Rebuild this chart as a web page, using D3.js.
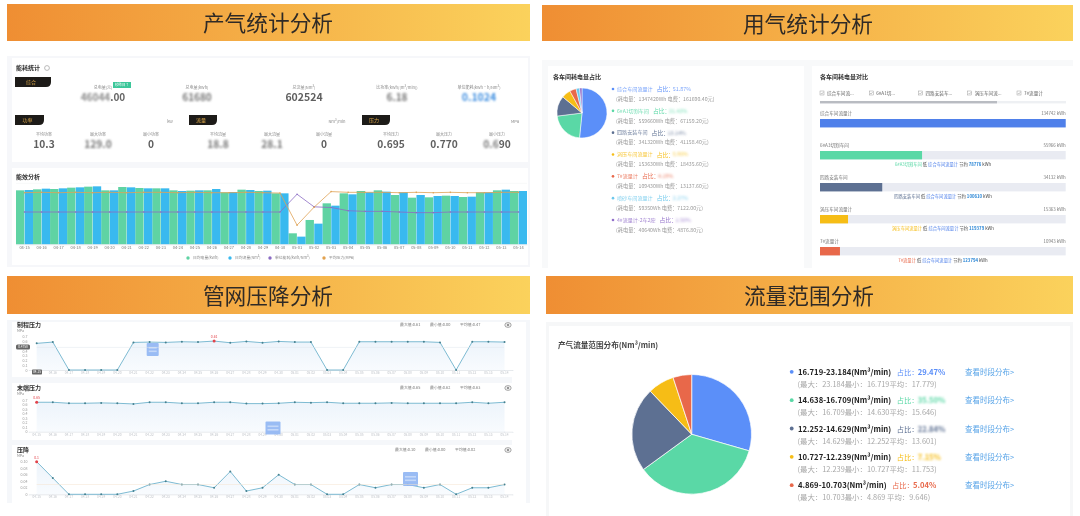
<!DOCTYPE html>
<html><head><meta charset="utf-8">
<script src="https://cdn.jsdelivr.net/npm/d3@7/dist/d3.min.js"></script>
<style>
html,body{margin:0;padding:0;background:#fff;width:1080px;height:516px;overflow:hidden}
svg{display:block;filter:blur(.35px)}
text{font-family:"Noto Sans CJK SC","Noto Sans",sans-serif}
</style></head><body><svg id="c" width="1080" height="516"></svg>
<script>
// ---------- data ----------
const sectionTitles = ["产气统计分析","用气统计分析","管网压降分析","流量范围分析"];
const dates = ["04-15","04-16","04-17","04-18","04-19","04-20","04-21","04-22","04-23","04-24","04-25","04-26","04-27","04-28","04-29","04-30","05-01","05-02","05-03","05-04","05-05","05-06","05-07","05-08","05-09","05-10","05-11","05-12","05-13","05-14"];
const dailyPower = [21060,21450,21580,22100,22490,21060,22360,21970,21840,21060,20930,21060,20280,21320,20800,19890,4290,9490,15990,19890,20800,21060,19240,18200,18330,18980,18460,20280,21060,20800];
const dailyFlow = [21190,21710,21840,22230,22620,21060,22230,21840,21840,20800,21060,21580,20410,21190,20930,19890,2990,8060,15080,19500,20280,20540,20280,19240,18850,18850,18590,20280,21320,20800];
const unitUse = [.100,.100,.100,.100,.100,.100,.100,.100,.100,.100,.100,.100,.100,.100,.100,.100,.155,.116,.114,.104,.102,.102,.100,.098,.098,.100,.100,.100,.100,.100];
const avgPressure = [.695,.70,.695,.70,.695,.70,.695,.70,.70,.695,.70,.695,.695,.70,.695,.69,.258,.50,.71,.70,.70,.70,.695,.70,.695,.70,.695,.695,.70,.70];
const energyLegend = ["日均电量(kWh)","日均流量(Nm³)","单位能耗(kWh/Nm³)","平均压力(MPa)"];

const workshops = ["综合车间流量计","6#A1切割车间","四路安装车间","涡压车间流量计","7#流量计","喷砂车间流量计","4#流量计-2车2腔"];
const workshopWh = [1347420,559660,341320,153630,109430,59350,40640];
const workshopFee = ["161690.40","67159.20","41158.40","18435.60","13137.60","7122.00","4876.80"];
const workshopPct = ["51.87%","21.43%","13.14%","5.96%","4.19%","2.27%","1.56%"];
const compareNames = ["综合车间流量计","6#A3切割车间","四路安装车间","涡压车间流量计","7#流量计"];
const compareChecks = ["综合车间流...","6#A1切...","四路安装车...","涡压车间流...","7#流量计"];
const compareKwh = ["134742 kWh","55966 kWh","34132 kWh","15363 kWh","10943 kWh"];
const compareSave = ["","78776","100610","119379","123794"];

const pressureFront = [.56,.587,0,0,0,0,.58,.587,.58,.594,.587,.608,.573,.601,.573,.601,.587,.587,0,0,.594,.594,.594,.594,.594,.58,0,.594,.594,.587];
const pressureEnd = [.65,.65,.628,.628,.636,.628,.613,.65,.65,.628,.628,.65,.65,.62,.62,.628,.65,.642,.65,.628,.628,.628,.636,.628,.628,.628,.628,.65,.628,.65];
const pressureDrop = [.1,.05,0,0,0,0,.01,.03,.04,.03,.03,.02,.07,.01,.02,.06,.03,.03,0,0,.03,.02,.03,.03,.02,.03,0,.02,.02,.03];
const lineTitles = ["制程压力","末端压力","压降"];
const lineStats = [["最大值:0.61","最小值:0.00","平均值:0.47"],["最大值:0.65","最小值:0.62","平均值:0.63"],["最大值:0.10","最小值:0.00","平均值:0.02"]];
const frontTicks = [0,.1,.2,.3,.4,.6,.7];
const endTicks = [0,.1,.2,.3,.4,.5,.6,.7];
const dropTicks = [0,.02,.04,.06,.08,.1];

const rangeNames = ["16.719-23.184(Nm³/min)","14.638-16.709(Nm³/min)","12.252-14.629(Nm³/min)","10.727-12.239(Nm³/min)","4.869-10.703(Nm³/min)"];
const rangeShare = [29.47,35.50,22.84,7.15,5.04];
const rangeDetail = ["(最大：23.184最小：16.719平均：17.779)","(最大：16.709最小：14.630平均：15.646)","(最大：14.629最小：12.252平均：13.601)","(最大：12.239最小：10.727平均：11.753)","(最大：10.703最小：4.869  平均：9.646)"];

const pieColors = ["#5b8ff9","#5ad8a6","#5d7092","#f6bd16","#e8684a","#6dc8ec","#9270ca"];

// ---------- helpers ----------
const svg = d3.select("#c");
const defs = svg.append("defs");
const g0 = defs.append("linearGradient").attr("id","hdr");
g0.append("stop").attr("offset","0").attr("stop-color","#ef8e33");
g0.append("stop").attr("offset","1").attr("stop-color","#fbd25c");
const ga = defs.append("linearGradient").attr("id","area").attr("x2",0).attr("y2",1);
ga.append("stop").attr("offset","0").attr("stop-color","#edf4fb");
ga.append("stop").attr("offset","1").attr("stop-color","#f8fbfe");
defs.append("filter").attr("id","sm").attr("x","-20%").attr("y","-40%").attr("width","140%").attr("height","180%")
  .append("feGaussianBlur").attr("stdDeviation",.85);

function rect(x,y,w,h,fill,parent){return (parent||svg).append("rect").attr("x",x).attr("y",y).attr("width",w).attr("height",h).attr("fill",fill);}
function txt(x,y,s,size,fill,opt){opt=opt||{};
  return (opt.p||svg).append("text").attr("x",x).attr("y",y).attr("dy",".35em").text(s).attr("font-size",size).attr("fill",fill)
   .attr("text-anchor",opt.a||"start").attr("font-weight",opt.w||400);}
function smudged(cx,y,blurred,clear,size,fill,fw,blurFill){
  const g=svg.append("g");
  const a=txt(0,0,blurred,size,blurFill||fill,{p:g,w:fw||700}).attr("filter",blurred?"url(#sm)":null);
  const w1=a.node().getComputedTextLength();
  const b=txt(w1,0,clear,size,fill,{p:g,w:fw||700});
  const w2=b.node().getComputedTextLength();
  g.attr("transform",`translate(${cx-(w1+w2)/2},${y})`);
}

// ---------- panels ----------
rect(7,56,523,211,"#f6f7fa"); rect(12,58,516,104,"#fff"); rect(12,168,516,97,"#fff");
rect(542,60,531,208,"#f8f9fa"); rect(548,66,256,202,"#fff"); rect(812,66,261,202,"#fff");
rect(7,320,523,183,"#f5f7fa"); rect(12,322,500,55,"#fff"); rect(12,383,500,57,"#fff"); rect(12,445,500,58,"#fff");
rect(512,322,14,181,"#fff");
rect(546,322,527,194,"#f6f7f8"); rect(549,326,521,190,"#fff");
[[7,4,523,37,268,23],[542,5,531,36,808,24],[7,276,523,38,268,296],[546,276,527,38,809,296]].forEach((b,i)=>{
  rect(b[0],b[1],b[2],b[3],"url(#hdr)");
  txt(b[4],b[5],sectionTitles[i],21.7,"#2f2a26",{a:"middle"});
});

// ---------- KPI block ----------
function tab(x,y,w,label){
  const h=10, r=5;
  svg.append("path").attr("d",`M${x} ${y}H${x+w}V${y+h-r}Q${x+w} ${y+h} ${x+w-r} ${y+h}H${x}Z`).attr("fill","#1d1b18");
  txt(x+w/2-2,y+h/2,label,5,"#d9a548",{a:"middle"});
}
txt(16,68,"能耗统计",6,"#333",{w:700});
svg.append("circle").attr("cx",47).attr("cy",68).attr("r",2.4).attr("fill","none").attr("stroke","#aaa").attr("stroke-width",.8);
tab(15,77,36,"综合"); tab(15,115,29,"功率"); tab(189,115,28,"流量"); tab(362,115,28,"压力");
txt(170,122,"kW",4,"#888",{a:"middle"}); txt(337,122,"Nm³/min",4,"#888",{a:"middle"}); txt(515,122,"MPa",4,"#888",{a:"middle"});
rect(113,82,18,6,"#3cc79a"); txt(122,85,"较昨日↑",3.5,"#fff",{a:"middle"});
const topLabels=["总电量(元)","总电量(kWh)","总流量(Nm³)","比功率(kWh/(m³/min))","单位能耗(kWh·h/Nm³)"];
const topCx=[103,197,304,397,479];
topLabels.forEach((l,i)=>txt(topCx[i],88,l,4,"#888",{a:"middle"}));
smudged(103,97,"46044",".00",10,"#666",700,"#888");
smudged(197,97,"61680","",10,"#666",700,"#777");
smudged(304,97,"","602524",10.5,"#5f5f5f");
smudged(397,97,"6.18","",10,"#666",700,"#777");
smudged(479,97,"0.1024","",10.5,"#3f8fe0",700,"#3f8fe0");
const botLabels=["平均功率","最大功率","最小功率","平均流量","最大流量","最小流量","平均压力","最大压力","最小压力"];
const botCx=[44,98,151,218,272,324,391,444,497];
botLabels.forEach((l,i)=>txt(botCx[i],135,l,4,"#888",{a:"middle"}));
[["","10.3"],["129.0",""],["","0"],["18.8",""],["28.1",""],["","0"],["","0.695"],["","0.770"],["0.6","90"]].forEach((p,i)=>smudged(botCx[i],144,p[0],p[1],10.2,"#5f5f5f",700,"#777"));

// ---------- energy analysis combo chart ----------
txt(16,177,"能效分析",6,"#333",{w:700});
const ex=d3.scaleBand().domain(dates).range([16,527]);
const exIn=d3.scaleBand().domain([0,1]).range([0,ex.bandwidth()]).paddingInner(.04);
const ey=d3.scaleLinear().domain([0,24000]).range([244.3,182.8]);
const eyU=d3.scaleLinear().domain([0,.2]).range([244.3,179.7]);
const eyP=d3.scaleLinear().domain([0,.8]).range([244.3,184.9]);
svg.append("g").attr("stroke","#eef0f3").attr("stroke-width",.5).append("line").attr("x1",16).attr("x2",527).attr("y1",ey(24000)+.5).attr("y2",ey(24000)+.5);
[[dailyPower,"#5fd3a3",0],[dailyFlow,"#39b9ef",1]].forEach(s=>{
  svg.append("g").selectAll("rect").data(s[0]).join("rect")
   .attr("x",(d,i)=>ex(dates[i])+exIn(s[2])).attr("width",exIn.bandwidth())
   .attr("y",d=>ey(d)).attr("height",d=>ey(0)-ey(d)).attr("fill",s[1]);
});
const ecx=(d,i)=>ex(dates[i])+ex.bandwidth()/2;
[[unitUse,eyU,"#8b6cc4"],[avgPressure,eyP,"#dfa255"]].forEach(s=>{
  svg.append("path").datum(s[0]).attr("fill","none").attr("stroke",s[2]).attr("stroke-width",.8)
    .attr("d",d3.line().x(ecx).y(d=>s[1](d)));
  svg.append("g").selectAll("circle").data(s[0]).join("circle").attr("cx",ecx).attr("cy",d=>s[1](d)).attr("r",.8).attr("fill",s[2]);
});
const eAxis=svg.append("g").attr("transform","translate(0,244.3)").call(d3.axisBottom(ex).tickSize(0).tickPadding(2));
eAxis.select(".domain").attr("stroke","#d5d8de").attr("stroke-width",.5);
eAxis.selectAll("text").attr("font-size",4).attr("fill","#777").attr("font-family",'"Noto Sans CJK SC"');
const eLegX=d3.scaleOrdinal().domain(energyLegend).range([188,230,270,324]);
const eLegC=["#5fd3a3","#39b9ef","#8b6cc4","#e2a24f"];
energyLegend.forEach((l,i)=>{
  svg.append("circle").attr("cx",eLegX(l)).attr("cy",258).attr("r",1.7).attr("fill",eLegC[i]);
  txt(eLegX(l)+5,258,l,3.8,"#888");
});

// ---------- workshop pie + legend ----------
txt(553,77,"各车间耗电量占比",6,"#333",{w:700});
const pie=d3.pie().sort(null).value(d=>d);
function drawPie(vals,cx,cy,r,sw){
  const arc=d3.arc().innerRadius(0).outerRadius(r);
  svg.append("g").attr("transform",`translate(${cx},${cy})`).selectAll("path").data(pie(vals)).join("path")
    .attr("d",arc).attr("fill",(d,i)=>pieColors[i]).attr("stroke","#fff").attr("stroke-width",sw);
}
drawPie(workshopWh,582,113,25,.5);
const wy=d3.scalePoint().domain(workshops).range([89,220]);
workshops.forEach((w,i)=>{
  const y=wy(w), c=pieColors[i];
  svg.append("circle").attr("cx",613).attr("cy",y).attr("r",1.3).attr("fill",c);
  const t=txt(617,y,w,5.1,c);
  const wd=t.node().getComputedTextLength();
  t.attr("opacity",.85);
  txt(617+wd+4,y,"占比：",5.8,c);
  const pctX=617+wd+4+16;
  txt(pctX,y,workshopPct[i],5.4,c).attr("filter",i<1?null:"url(#sm)").attr("opacity",.8);
  txt(616,y+10,`(耗电量：${workshopWh[i]}Wh  电费：${workshopFee[i]}元)`,5.2,"#9a9a9a");
});

// ---------- workshop comparison ----------
txt(820,77,"各车间耗电量对比",6,"#333",{w:700});
const chkX=d3.scalePoint().domain(compareChecks).range([820,1017]);
compareChecks.forEach(c=>{
  rect(chkX(c),91,4,4,"#fff").attr("stroke","#888").attr("stroke-width",.4);
  svg.append("path").attr("d",`M${chkX(c)+.8} ${93}l1 1.1l1.6 -2`).attr("fill","none").attr("stroke","#777").attr("stroke-width",.4);
  txt(chkX(c)+7,93,c,4.6,"#666");
});
rect(820,101,246,2.4,"#eef0f3"); rect(820,101,177,2.4,"#b9bcc2");
const rowY=d3.scaleBand().domain(compareNames).range([119,279]).paddingInner(0);
const barX=d3.scaleLinear().domain([0,workshopWh[0]]).range([0,245.7]);
compareNames.forEach((n,i)=>{
  const y=rowY(n);
  txt(820,y-6,n,4.6,"#777");
  txt(1065.7,y-6,compareKwh[i],4.4,"#777",{a:"end"});
  rect(820,y,245.7,8.4,"#e9ebf2");
  rect(820,y,barX(workshopWh[i]),8.4,i==0?"#4f80ea":pieColors[i]);
  if(i>0){
    const g=svg.append("text").attr("y",y+13).attr("dy",".35em").attr("x",943).attr("text-anchor","middle").attr("font-size",4.3);
    g.append("tspan").text(n).attr("fill",pieColors[i]);
    g.append("tspan").text(" 低 ").attr("fill","#444");
    g.append("tspan").text(compareNames[0]).attr("fill","#4f80ea");
    g.append("tspan").text(" 节约 ").attr("fill","#444");
    g.append("tspan").text(compareSave[i]).attr("fill","#2a86d6").attr("font-weight",700);
    g.append("tspan").text(" kWh").attr("fill","#444");
  }
});

// ---------- pressure line charts ----------
const lx=d3.scaleBand().domain(dates).range([28.6,512.6]);
const lcx=(d,i)=>lx(dates[i])+lx.bandwidth()/2;
function lineChart(idx,vals,top,bot,maxV,ticks,fmt,markIdx,markLabel,box,statX,hideFirst){
  const tY=[325,388,450][idx];
  const y=d3.scaleLinear().domain([0,maxV]).range([bot,top]);
  txt(17,tY,lineTitles[idx],6,"#333",{w:700});
  txt(17,tY+6,"MPa",3.5,"#888");
  lineStats[idx].forEach((s,k)=>txt(statX+k*30,tY,s,3.9,"#777"));
  svg.append("ellipse").attr("cx",508).attr("cy",tY).attr("rx",3.2).attr("ry",2.4).attr("fill","#eee").attr("stroke","#777").attr("stroke-width",.6);
  svg.append("circle").attr("cx",508).attr("cy",tY).attr("r",1).attr("fill","#777");
  svg.append("path").datum(vals).attr("fill","url(#area)")
    .attr("d",d3.area().x(lcx).y0(bot).y1(d=>y(d)));
  const a=svg.append("g").attr("transform",`translate(0,${bot})`).call(d3.axisBottom(lx).tickSize(1).tickPadding(.8).tickFormat(d=>hideFirst&&d==dates[0]?"":d));
  a.select(".domain").attr("stroke","#cfd4da").attr("stroke-width",.5);
  a.selectAll("line").attr("stroke","#cfd4da").attr("stroke-width",.4);
  a.selectAll("text").attr("font-size",3.2).attr("fill","#c0c4ca").attr("font-family",'"Noto Sans CJK SC"');
  const b=svg.append("g").attr("transform","translate(29,0)").call(d3.axisLeft(y).tickValues(ticks).tickSize(0).tickPadding(1.5).tickFormat(fmt));
  b.select(".domain").remove();
  b.selectAll("text").attr("font-size",3.6).attr("fill","#999").attr("font-family",'"Noto Sans CJK SC"');
  svg.append("path").datum(vals).attr("fill","none").attr("stroke","#6fb3cd").attr("stroke-width",.9).attr("d",d3.line().x(lcx).y(d=>y(d)));
  svg.append("g").selectAll("circle").data(vals).join("circle").attr("cx",lcx).attr("cy",d=>y(d)).attr("r",(d,i)=>i==markIdx?1.5:1)
    .attr("fill",(d,i)=>i==markIdx?"#e2434b":"#45808f");
  txt(lcx(vals[markIdx],markIdx),y(vals[markIdx])-4,markLabel,3.4,"#e2434b",{a:"middle"});
  rect(box[0],box[1],box[2],box[3],"#8fb5f3").attr("rx",1).attr("opacity",.9);
  rect(box[0]+2,box[1]+4,box[2]-4,1.6,"#c4d8f8"); rect(box[0]+2,box[1]+7.5,box[2]-4,1.6,"#c4d8f8");
  return y;
}
const fmt1=d3.format(".1f");
const yf=lineChart(0,pressureFront,336.7,370,.7,frontTicks,d=>d?fmt1(d):"0",11,"0.61",[146.7,343,12,13],400,true);
lineChart(1,pressureEnd,400,431.7,.7,endTicks,d=>d?fmt1(d):"0",0,"0.65",[265.5,421.5,15,13],400,false);
const yd=lineChart(2,pressureDrop,461.7,494.3,.1,dropTicks,d=>d?d3.format(".2f")(d):"0",0,"0.1",[403,472,15,14],395,false);
svg.append("line").attr("x1",36.7).attr("x2",504).attr("y1",yf(.4758)).attr("y2",yf(.4758)).attr("stroke","#dfe5ec").attr("stroke-width",.5);
svg.append("line").attr("x1",36.7).attr("x2",504).attr("y1",yd(.03)).attr("y2",yd(.03)).attr("stroke","#f5e3cf").attr("stroke-width",.5);
rect(16,344.6,14,4.8,"#666").attr("rx",1.5); txt(23,347,"0.4758",3.2,"#fff",{a:"middle"});
rect(32,369.5,10,5,"#666").attr("rx",.8); txt(37,372,"04-15",3,"#fff",{a:"middle"});

// ---------- flow range ----------
txt(558,345,"产气流量范围分布(Nm³/min)",7.6,"#444",{w:700});
drawPie(rangeShare,691.7,434.3,59.8,.7);
const ry=d3.scalePoint().domain(rangeNames).range([372.3,485.7]);
const rangeSmudge=[false,true,true,true,false];
rangeNames.forEach((n,i)=>{
  const y=ry(n), c=pieColors[i];
  svg.append("circle").attr("cx",791.7).attr("cy",y-.5).attr("r",1.9).attr("fill",c);
  txt(798,y,n,7.7,"#222",{w:700});
  const sx=i==4?892:896.7;
  txt(sx,y,"占比：",7.3,c);
  const pct=txt(sx+21,y,rangeShare[i].toFixed(2)+"%",7.6,c,{w:700});
  if(rangeSmudge[i]) pct.attr("filter","url(#sm)");
  txt(797.5,y+12,rangeDetail[i],7.4,"#a8a8a8");
  txt(965,y,"查看时段分布>",7.5,"#5aa5e8");
});
</script></body></html>
